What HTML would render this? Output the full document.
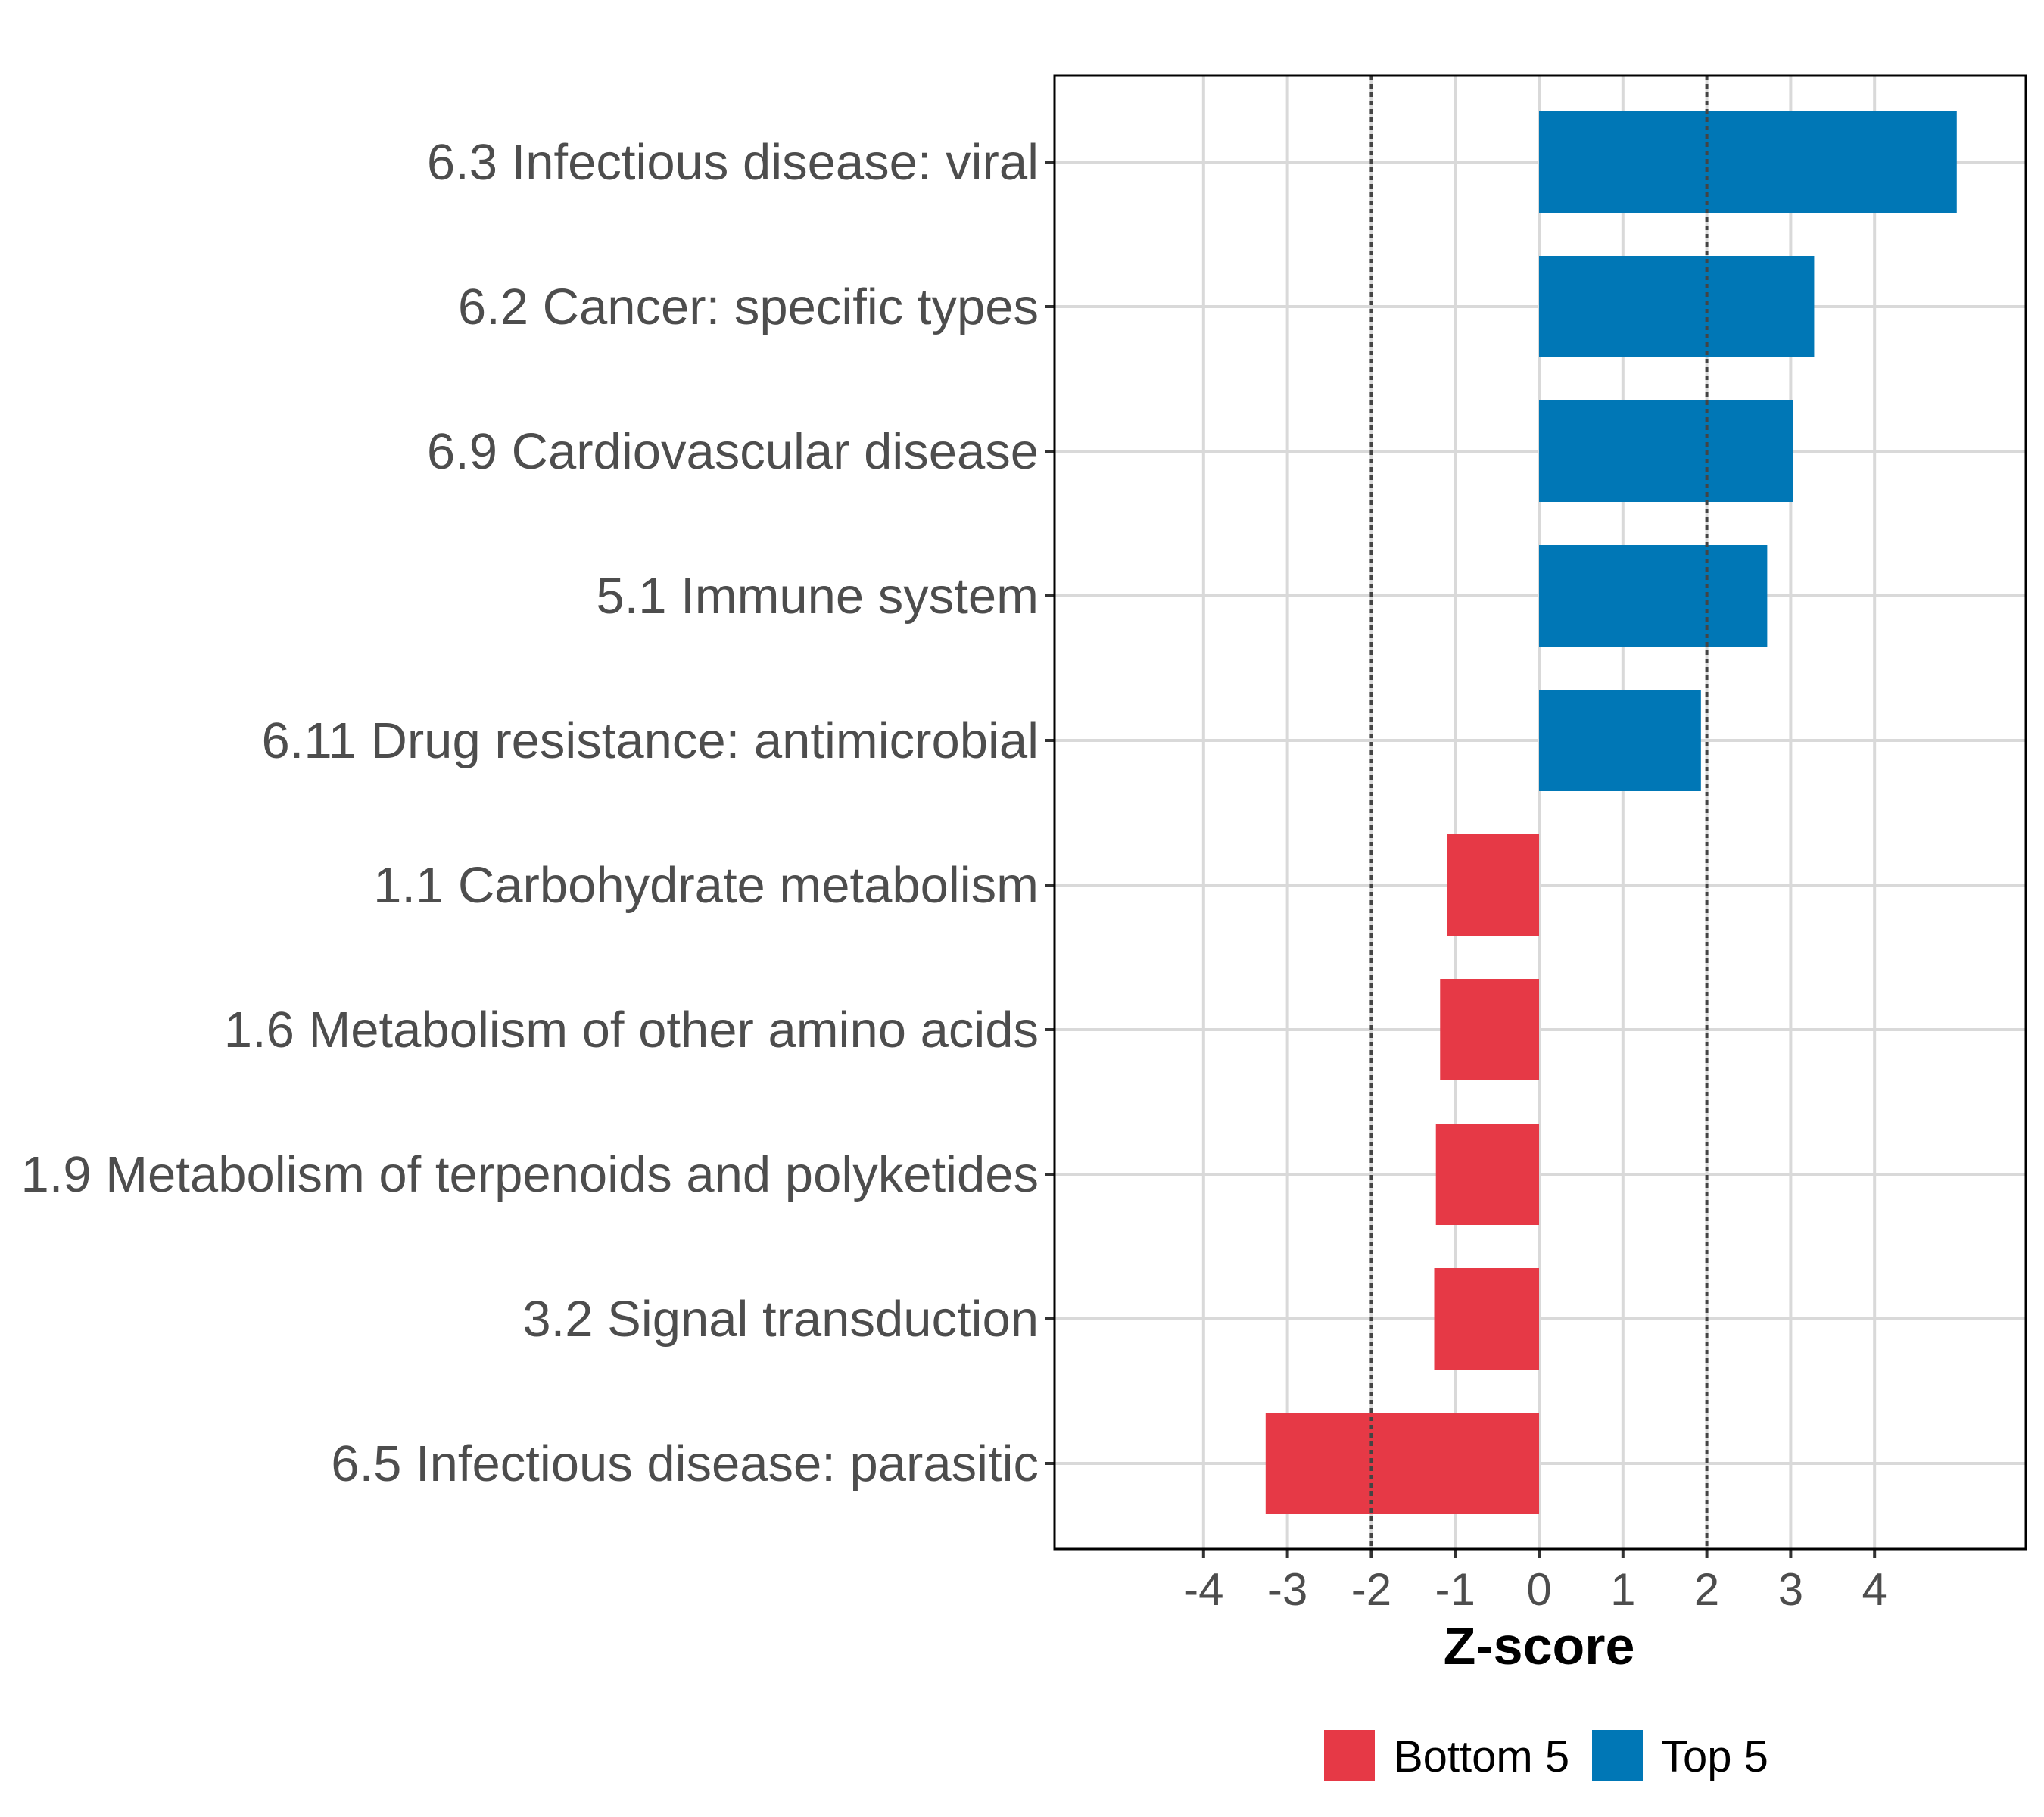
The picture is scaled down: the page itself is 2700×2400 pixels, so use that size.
<!DOCTYPE html>
<html><head><meta charset="utf-8"><style>
html,body{margin:0;padding:0;background:#fff;}
svg{display:block;font-family:"Liberation Sans",Arial,sans-serif;}
</style></head><body>
<svg id="chart" width="2700" height="2400" viewBox="0 0 2700 2400">
<g id="grid"></g><g id="bars"></g><g id="ref"></g><g id="axes"></g>
<g>
<rect x="1749" y="2285" width="67" height="67" fill="#E63946"/>
<text x="1841" y="2340" font-size="58" fill="#000">Bottom 5</text>
<rect x="2103" y="2285" width="67" height="67" fill="#0077B6"/>
<text x="2194" y="2340" font-size="58" fill="#000">Top 5</text>
</g>
</svg>
<script>
const categories=["6.3 Infectious disease: viral","6.2 Cancer: specific types","6.9 Cardiovascular disease","5.1 Immune system","6.11 Drug resistance: antimicrobial","1.1 Carbohydrate metabolism","1.6 Metabolism of other amino acids","1.9 Metabolism of terpenoids and polyketides","3.2 Signal transduction","6.5 Infectious disease: parasitic"];
const zscores=[4.98,3.28,3.03,2.72,1.93,-1.10,-1.18,-1.23,-1.25,-3.26];
const groups=["Top 5","Top 5","Top 5","Top 5","Top 5","Bottom 5","Bottom 5","Bottom 5","Bottom 5","Bottom 5"];
const xTicks=[-4,-3,-2,-1,0,1,2,3,4];
const refLines=[-2,2];
const NS="http://www.w3.org/2000/svg";
const L=1393,R=2676,T=100,B=2046;
const x0=2033,unit=110.8;
function xs(v){return x0+v*unit;}
const step=191,firstY=214;
function ys(i){return firstY+i*step;}
function mk(tag,attrs,parent){const e=document.createElementNS(NS,tag);for(const k in attrs)e.setAttribute(k,attrs[k]);parent.appendChild(e);return e;}
const grid=document.getElementById('grid'),bars=document.getElementById('bars'),ref=document.getElementById('ref'),axes=document.getElementById('axes');
xTicks.forEach(t=>{
 const g=mk('line',{x1:xs(t),x2:xs(t),y1:T,y2:B,stroke:'#d9d9d9','stroke-width':4},grid);
 
 
 const tk=mk('line',{x1:xs(t),x2:xs(t),y1:B,y2:B+12,stroke:'#333','stroke-width':4},axes);
 
 
 const lb=mk('text',{x:xs(t),y:2120,'font-size':60,fill:'#4d4d4d','text-anchor':'middle'},axes);
 lb.textContent=String(t);
 
 
});
categories.forEach((c,i)=>{
 const y=ys(i);
 const g=mk('line',{x1:L,x2:R,y1:y,y2:y,stroke:'#d9d9d9','stroke-width':4},grid);
 
 
 const v=zscores[i];
 const r=mk('rect',{x:Math.min(xs(0),xs(v)),y:y-67,width:Math.abs(xs(v)-xs(0)),height:134,fill:groups[i]==="Top 5"?'#0077B6':'#E63946'},bars);
 
 
 const tk=mk('line',{x1:L-12,x2:L,y1:y,y2:y,stroke:'#333','stroke-width':4},axes);
 
 
 const lb=mk('text',{x:1372,y:y+23,'font-size':67,fill:'#4d4d4d','text-anchor':'end'},axes);
 lb.textContent=c;
 
 
});
refLines.forEach(v=>{
 const l=mk('line',{x1:xs(v),x2:xs(v),y1:T,y2:B,stroke:'#444','stroke-width':4,'stroke-dasharray':'6 5'},ref);
 
 
});
const fr=mk('rect',{x:L,y:T,width:R-L,height:B-T,fill:'none',stroke:'#000','stroke-width':3},axes);


const xt=mk('text',{x:x0,y:2198,'font-size':70,'font-weight':'bold',fill:'#000','text-anchor':'middle'},axes);
xt.textContent='Z-score';


</script>
</body></html>
